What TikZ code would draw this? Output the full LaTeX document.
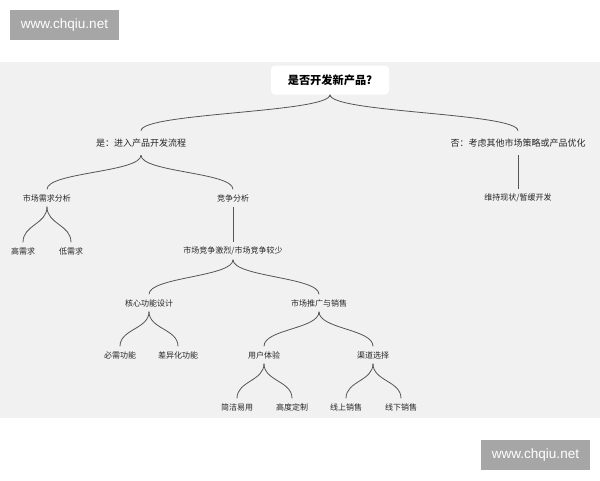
\documentclass[tikz,border=0pt]{standalone}
\usepackage{fontspec}
\usepackage{xcolor}
\setmainfont{Noto Sans CJK SC}
\newfontfamily\wmfont{Liberation Sans}
\usetikzlibrary{calc}

\definecolor{bandgray}{HTML}{F1F1F1}
\definecolor{markgray}{HTML}{A6A6A6}
\definecolor{textgray}{HTML}{262626}
\definecolor{linegray}{HTML}{555555}

\tikzset{
    leaf/.style={text=textgray, font=\fontsize{8}{9}\selectfont, minimum height=17pt, inner xsep=1pt},
    branchlabel/.style={text=textgray, font=\fontsize{9}{10}\selectfont, minimum height=24pt, inner xsep=1pt},
    rootbox/.style={fill=white, rounded corners=4pt, text=black, font=\fontsize{11.2}{12}\selectfont\bfseries,
        minimum width=118pt, minimum height=29pt},
    watermark/.style={fill=markgray, text=white, font=\wmfont\fontsize{13.5}{14}\selectfont,
        minimum width=109pt, minimum height=30pt, inner sep=0pt},
    % vertical link: leaves and enters vertically
    link/.style={draw=linegray, line width=0.8pt, to path={
        .. controls ($(\tikztostart)!0.5!(\tikztostart|-\tikztotarget)$)
        and ($(\tikztotarget)!0.5!(\tikztotarget|-\tikztostart)$) .. (\tikztotarget)}}
}

\begin{document}
\begin{tikzpicture}[x=1pt,y=-1pt]
        \useasboundingbox (0,0) rectangle (600,480);
        \fill[bandgray] (0,62) rectangle (600,418);

        % watermarks
        \node[watermark] (markTop) at (64.5,25) {www.chqiu.net};
        \node[watermark] (markBot) at (535.5,455) {www.chqiu.net};

        % root
        \node[rootbox] (root) at (330,80) {是否开发新产品?};

        % first level
        \node[branchlabel] (yes) at (141,143) {是：进入产品开发流程};
        \node[branchlabel] (no) at (518,143) {否：考虑其他市场策略或产品优化};

        % second level
        \node[leaf] (need) at (47,198) {市场需求分析};
        \node[leaf] (comp) at (233,198) {竞争分析};
        \node[leaf] (keep) at (518,198) {维持现状/暂缓开发};

        % third level
        \node[leaf] (high) at (23,251) {高需求};
        \node[leaf] (low) at (71,251) {低需求};
        \node[leaf] (fierce) at (233,251) {市场竞争激烈/市场竞争较少};

        % fourth level
        \node[leaf] (core) at (149,303) {核心功能设计};
        \node[leaf] (promo) at (319,303) {市场推广与销售};

        % fifth level
        \node[leaf] (must) at (120,355) {必需功能};
        \node[leaf] (diff) at (178,355) {差异化功能};
        \node[leaf] (ux) at (264,355) {用户体验};
        \node[leaf] (chan) at (373,355) {渠道选择};

        % sixth level
        \node[leaf] (simple) at (237,407) {简洁易用};
        \node[leaf] (custom) at (292,407) {高度定制};
        \node[leaf] (online) at (346,407) {线上销售};
        \node[leaf] (offline) at (401,407) {线下销售};

        % links
        \foreach \from/\to in {root/yes, root/no, yes/need, yes/comp, no/keep,
                need/high, need/low, comp/fierce, fierce/core, fierce/promo,
                core/must, core/diff, promo/ux, promo/chan,
                ux/simple, ux/custom, chan/online, chan/offline}
            \draw[link] (\from.south) to (\to.north);
    \end{tikzpicture}
\end{document}
